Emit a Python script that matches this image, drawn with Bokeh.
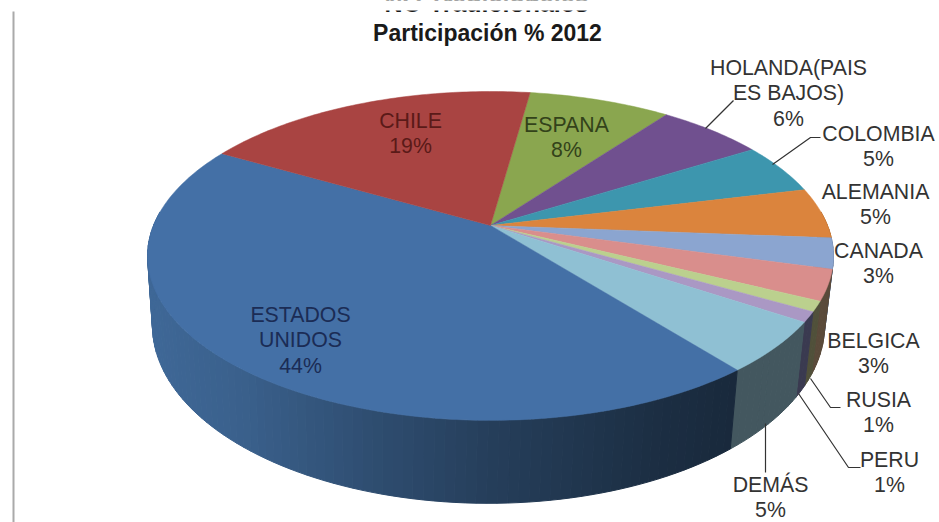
import numpy as np
from bokeh.embed import file_html
from bokeh.models import Range1d
from bokeh.plotting import figure
from bokeh.resources import INLINE
from bokeh.core.properties import value

# Export share per destination, clockwise from the back of the disc
countries = ["ESPANA", "HOLANDA(PAIS ES BAJOS)", "COLOMBIA", "ALEMANIA", "CANADA",
             "BELGICA", "RUSIA", "PERU", "DEMÁS", "ESTADOS UNIDOS", "CHILE"]
shares = [8, 6, 5, 5, 3, 3, 1, 1, 5, 44, 19]
top_colors = ["#8AA64F", "#70508F", "#3D96AE", "#DB843D", "#8BA5D0",
              "#D98E8C", "#BBD08E", "#AA98C4", "#8FC0D3", "#4470A6", "#A94442"]
side_colors = ["#6b8040", "#56406e", "#2f7486", "#a9662f", "#6b7fa0",
               "#5a4a3a", "#50503a", "#3a3a50", "#43575f", "#3f6897", "#7f3332"]

title_lines = ["NO Tradicionales", "Participación % 2012"]

# Disc projection
CX, CY = 490.0, 225.0
A, B, K = 337.0, 158.8, 0.185
START_DEG = 8.0
# Lower rim of the wall
BOTTOM_CX, BOTTOM_CY = 488.0, 292.0
BOTTOM_SX, BOTTOM_SY = 0.98, 1.082


def rim(theta_deg):
    t = np.radians(theta_deg)
    w = 1 + K * np.cos(t)
    return A * np.sin(t) / w, -B * np.cos(t) / w


def top_point(theta_deg):
    x, y = rim(theta_deg)
    return CX + x, CY + y


def bottom_point(theta_deg):
    x, y = rim(theta_deg)
    return BOTTOM_CX + BOTTOM_SX * x, BOTTOM_CY + BOTTOM_SY * y


def shade(color, factor):
    r, g, b = (int(color[i:i + 2], 16) for i in (1, 3, 5))
    return "#%02x%02x%02x" % (int(r * factor), int(g * factor), int(b * factor))


p = figure(width=939, height=522, output_backend="svg", toolbar_location=None,
           x_range=Range1d(0, 939), y_range=Range1d(522, 0), min_border=0)
p.axis.visible = False
p.grid.visible = False
p.outline_line_color = None
p.background_fill_color = "white"
p.border_fill_color = "white"

# Slice boundaries in degrees
edges = START_DEG + 3.6 * np.concatenate([[0], np.cumsum(shares)])

# Side wall, drawn as thin shaded quads on the visible front half
wall_x, wall_y, wall_c = [], [], []
for i, name in enumerate(countries):
    a0, a1 = max(edges[i], 85.0), min(edges[i + 1], 275.0)
    if a1 <= a0:
        continue
    steps = max(1, int((a1 - a0) / 1.5))
    grid = np.linspace(a0, a1, steps + 1)
    for s in range(steps):
        x0, y0 = top_point(grid[s])
        x1, y1 = top_point(grid[s + 1])
        x2, y2 = bottom_point(grid[s + 1])
        x3, y3 = bottom_point(grid[s])
        wall_x.append([x0, x1, x2, x3])
        wall_y.append([y0, y1, y2, y3])
        if name == "ESTADOS UNIDOS":
            f = np.interp((x0 + x1) / 2, [150, 240, 377, 495, 654, 735],
                          [1.0, 0.93, 0.74, 0.6, 0.45, 0.4])
        else:
            f = 1.0
        wall_c.append(shade(side_colors[i], f))
p.patches(wall_x, wall_y, fill_color=wall_c, line_color=wall_c, line_width=1)

# Top face
face_x, face_y = [], []
for i in range(len(shares)):
    arc = np.linspace(edges[i], edges[i + 1], max(4, shares[i] * 4))
    xs, ys = top_point(arc)
    face_x.append([CX] + list(xs))
    face_y.append([CY] + list(ys))
p.patches(face_x, face_y, fill_color=top_colors, line_color=top_colors, line_width=0.5)

# Leader lines
leaders = [
    ([705, 733], [128, 100]),
    ([772, 810, 820], [164, 137, 137]),
    ([810, 830, 840], [378, 407, 407]),
    ([798, 848, 860], [393, 467, 467]),
    ([765, 765], [423, 472]),
]
for lx, ly in leaders:
    p.line(lx, ly, line_color="#333333", line_width=1.2)

# Data labels
share_text = {c: f"{s}%" for c, s in zip(countries, shares)}
labels = [
    ("ESTADOS UNIDOS", ["ESTADOS", "UNIDOS"], 300, 314, "#1b2c55"),
    ("CHILE", ["CHILE"], 410, 120, "#5a1a18"),
    ("ESPANA", ["ESPANA"], 566, 124, "#33421a"),
    ("HOLANDA(PAIS ES BAJOS)", ["HOLANDA(PAIS", "ES BAJOS)"], 788, 67, "#333333"),
    ("COLOMBIA", ["COLOMBIA"], 878, 133, "#333333"),
    ("ALEMANIA", ["ALEMANIA"], 875, 191, "#333333"),
    ("CANADA", ["CANADA"], 878, 250, "#333333"),
    ("BELGICA", ["BELGICA"], 873, 340, "#333333"),
    ("RUSIA", ["RUSIA"], 878, 399, "#333333"),
    ("PERU", ["PERU"], 889, 459, "#333333"),
    ("DEMÁS", ["DEMÁS"], 770, 484, "#333333"),
]
LINE_STEP = 25.7
for key, rows, lx, ly, col in labels:
    rows = rows + [share_text[key]]
    p.text([lx] * len(rows), [ly + LINE_STEP * k for k in range(len(rows))], text=rows,
           text_font=value("Liberation Sans"), text_font_size="21.3px", text_color=col,
           text_align="center", text_baseline="middle")

# Title: its first line runs off the top of the frame
p.text([486], [2], text=[title_lines[0]], text_font=value("Liberation Sans"),
       text_font_style="bold", text_font_size="25px", text_color="#1a1a1a",
       text_align="center", text_baseline="middle")
p.quad(left=[300], right=[680], top=[0], bottom=[10], fill_color="white", line_color=None)
p.text([487], [32], text=[title_lines[1]], text_font=value("Liberation Sans"),
       text_font_style="bold", text_font_size="23px", text_color="#1a1a1a",
       text_align="center", text_baseline="middle")

# Frame rule on the left
p.line([13, 13], [11, 522], line_color="#aaaaaa", line_width=2)

open("out.html", "w").write(file_html(p, INLINE))
